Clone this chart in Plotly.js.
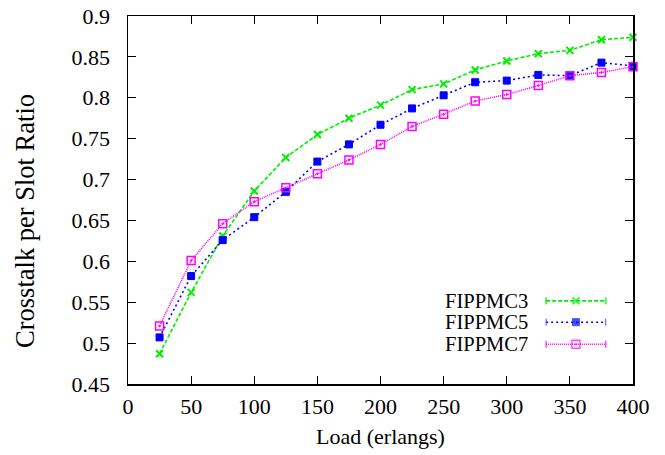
<!DOCTYPE html>
<html>
<head>
<meta charset="utf-8">
<script src="https://cdn.plot.ly/plotly-3.0.1.min.js"></script>
<style>html,body{margin:0;padding:0;background:#fff;}#chart{width:665px;height:455px;}</style>
</head>
<body>
<div id="chart"></div>
<script>
var loads = [25, 50, 75, 100, 125, 150, 175, 200, 225, 250, 275, 300, 325, 350, 375, 400];
var fippmc3 = [0.487, 0.562, 0.631, 0.686, 0.727, 0.755, 0.775, 0.791, 0.810, 0.817, 0.834, 0.845, 0.854, 0.858, 0.871, 0.874];
var fippmc5 = [0.507, 0.582, 0.626, 0.654, 0.685, 0.722, 0.743, 0.767, 0.787, 0.803, 0.819, 0.821, 0.828, 0.827, 0.843, 0.839];
var fippmc7 = [0.521, 0.601, 0.646, 0.673, 0.690, 0.707, 0.724, 0.743, 0.765, 0.780, 0.796, 0.804, 0.815, 0.827, 0.831, 0.838];
var seriesNames = ['FIPPMC3', 'FIPPMC5', 'FIPPMC7'];
var yTickVals = [0.45, 0.5, 0.55, 0.6, 0.65, 0.7, 0.75, 0.8, 0.85, 0.9];
var yTickText = ['0.45', '0.5', '0.55', '0.6', '0.65', '0.7', '0.75', '0.8', '0.85', '0.9'];
var xTickVals = [0, 50, 100, 150, 200, 250, 300, 350, 400];
var xTitle = 'Load (erlangs)';
var yTitle = 'Crosstalk per Slot Ratio';

var styles = [
  {color: '#00ee00', dash: '4px,2px', symbol: 'x-thin-open', size: 7, mline: 2},
  {color: '#0000ff', dash: '2px,3px', symbol: 'square', size: 7, mline: 1},
  {color: '#ff00ff', dash: '1px,1px', symbol: 'square-open-dot', size: 8, mline: 1.5}
];
var data = [fippmc3, fippmc5, fippmc7];
var font = "'Liberation Serif', 'Times New Roman', Times, serif";

var traces = [];
for (var i = 0; i < 3; i++) {
  var s = styles[i];
  traces.push({
    x: loads, y: data[i], type: 'scatter', mode: 'lines+markers', name: seriesNames[i],
    line: {color: s.color, dash: s.dash, width: 1.6},
    marker: {symbol: s.symbol, size: s.size, color: s.color, line: {color: s.color, width: s.mline}},
    showlegend: false, cliponaxis: false
  });
}
// legend samples (drawn on an overlay unit axis)
var legX = [0.828, 0.887, 0.946];
var legY = [0.226, 0.168, 0.108];
var annotations = [];
for (var j = 0; j < 3; j++) {
  var st = styles[j];
  traces.push({
    x: legX, y: [legY[j], legY[j], legY[j]], xaxis: 'x2', yaxis: 'y2', type: 'scatter', mode: 'lines+markers',
    line: {color: st.color, dash: st.dash, width: 1.6},
    marker: {symbol: ['line-ns-open', st.symbol, 'line-ns-open'], size: [5, st.size, 5], color: st.color,
             line: {color: st.color, width: st.mline}},
    showlegend: false, hoverinfo: 'skip'
  });
  annotations.push({
    xref: 'paper', yref: 'paper', x: 0.795, y: legY[j], xanchor: 'right', yanchor: 'middle',
    text: seriesNames[j], showarrow: false, borderpad: 0, font: {family: font, size: 20.5, color: '#000'}
  });
}
annotations.push({
  xref: 'paper', yref: 'paper', x: -0.204, y: 0.443, xanchor: 'center', yanchor: 'middle', textangle: -90,
  text: yTitle, showarrow: false, font: {family: font, size: 26.5, color: '#000'}
});

var layout = {
  width: 665, height: 455,
  margin: {l: 128, r: 32, t: 16, b: 71},
  paper_bgcolor: '#fff', plot_bgcolor: '#fff',
  font: {family: font, size: 21, color: '#000'},
  showlegend: false,
  xaxis: {
    range: [0, 400], tickvals: xTickVals, ticks: 'inside', ticklen: 8, tickwidth: 1, tickcolor: '#000',
    showline: true, linecolor: '#000', linewidth: 1.5, mirror: 'allticks', showgrid: false, zeroline: false,
    tickfont: {family: font, size: 22, color: '#000'}, ticklabelstandoff: 2,
    title: {text: xTitle, font: {family: font, size: 22, color: '#000'}, standoff: 10}
  },
  yaxis: {
    range: [0.45, 0.9], tickvals: yTickVals, ticktext: yTickText, ticks: 'inside', ticklen: 8, tickwidth: 1, tickcolor: '#000',
    showline: true, linecolor: '#000', linewidth: 1.5, mirror: 'allticks', showgrid: false, zeroline: false,
    tickfont: {family: font, size: 22, color: '#000'}, ticklabelstandoff: 12
  },
  xaxis2: {range: [0, 1], overlaying: 'x', visible: false, fixedrange: true},
  yaxis2: {range: [0, 1], overlaying: 'y', visible: false, fixedrange: true},
  annotations: annotations
};
Plotly.newPlot('chart', traces, layout, {displayModeBar: false, staticPlot: true});
</script>
</body>
</html>
